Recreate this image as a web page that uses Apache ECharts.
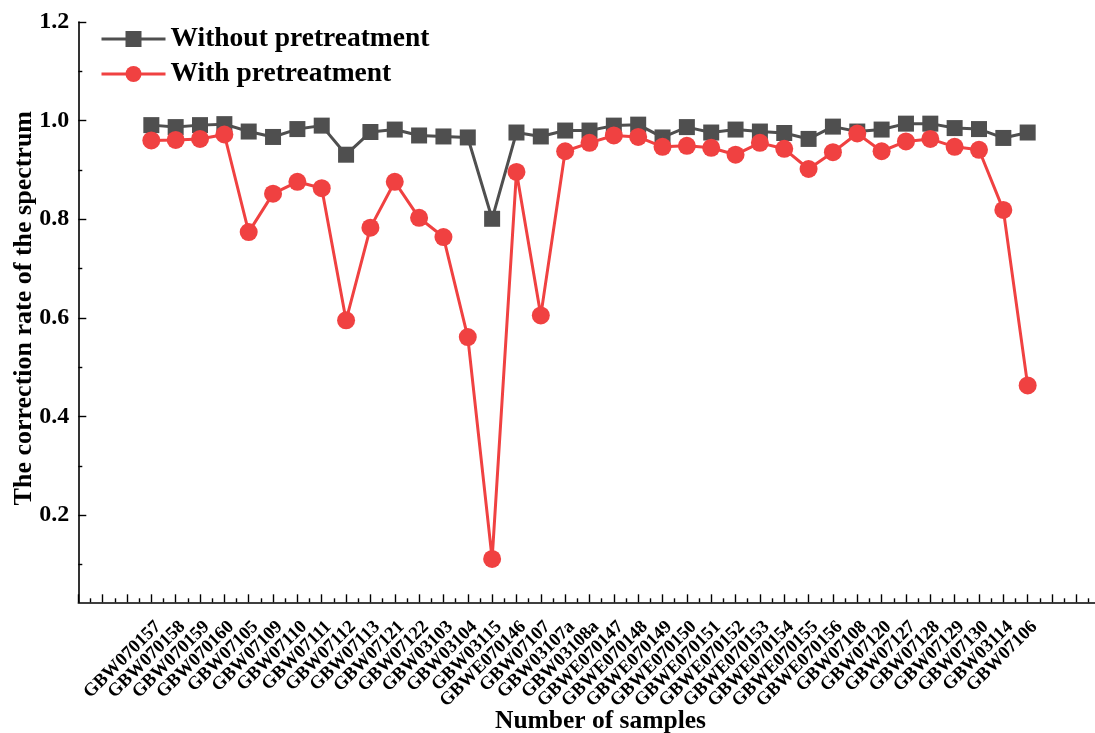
<!DOCTYPE html>
<html>
<head>
<meta charset="utf-8">
<title>Correction rate of the spectrum</title>
<script src="https://cdn.jsdelivr.net/npm/echarts@6/dist/echarts.min.js"></script>
<style>
  html, body { margin: 0; padding: 0; background: #ffffff; }
  #chart { width: 1095px; height: 733px; }
</style>
</head>
<body>
<div id="chart"></div>
<script>
// Sample identifiers along the x axis (placed at positions 3, 4, ... on a 0–42 scale)
const samples = [
  'GBW070157', 'GBW070158', 'GBW070159', 'GBW070160', 'GBW07105', 'GBW07109',
  'GBW07110', 'GBW07111', 'GBW07112', 'GBW07113', 'GBW07121', 'GBW07122',
  'GBW03103', 'GBW03104', 'GBW03115', 'GBWE070146', 'GBW07107', 'GBW03107a',
  'GBW03108a', 'GBWE070147', 'GBWE070148', 'GBWE070149', 'GBWE070150',
  'GBWE070151', 'GBWE070152', 'GBWE070153', 'GBWE070154', 'GBWE070155',
  'GBWE070156', 'GBW07108', 'GBW07120', 'GBW07127', 'GBW07128', 'GBW07129',
  'GBW07130', 'GBW03114', 'GBW07106'
];

const withoutPretreatment = [
  0.991, 0.987, 0.991, 0.993, 0.978, 0.967, 0.983, 0.990, 0.931, 0.977,
  0.982, 0.970, 0.968, 0.966, 0.801, 0.976, 0.968, 0.980, 0.980, 0.990,
  0.992, 0.966, 0.987, 0.976, 0.982, 0.978, 0.975, 0.963, 0.988, 0.978,
  0.982, 0.994, 0.994, 0.985, 0.983, 0.965, 0.976
];

const withPretreatment = [
  0.960, 0.961, 0.963, 0.972, 0.774, 0.852, 0.876, 0.863, 0.595, 0.783,
  0.876, 0.803, 0.764, 0.561, 0.111, 0.896, 0.605, 0.938, 0.955, 0.970,
  0.967, 0.947, 0.949, 0.945, 0.931, 0.955, 0.943, 0.902, 0.936, 0.974,
  0.938, 0.958, 0.963, 0.947, 0.941, 0.819, 0.463
];

const yMajorTicks = [0.2, 0.4, 0.6, 0.8, 1.0, 1.2];
const yMinorTicks = [0.1, 0.3, 0.5, 0.7, 0.9, 1.1];

const firstPos = 3;   // x position of the first sample
const xMax = 42;
const yMin = 0.023;
const yMax = 1.2;

const FONT = '"Liberation Serif", "Times New Roman", serif';

const toPoints = vals => vals.map((v, i) => [i + firstPos, v]);

const chart = echarts.init(document.getElementById('chart'), null, { renderer: 'canvas' });

const option = {
  backgroundColor: '#ffffff',
  animation: false,
  grid: {
    left: 78.3,
    top: 22.1,
    right: -5.7,
    bottom: 130.7,
    containLabel: false,
    outerBoundsMode: 'none'
  },
  legend: {
    orient: 'vertical',
    left: 100,
    top: 25,
    padding: 0,
    itemGap: 7,
    itemWidth: 64,
    itemHeight: 20,
    lineStyle: { width: 3 },
    textStyle: {
      fontFamily: FONT,
      fontWeight: 'bold',
      fontSize: 27.5,
      lineHeight: 27,
      color: '#000'
    },
    data: ['Without pretreatment', 'With pretreatment']
  },
  xAxis: {
    type: 'value',
    min: 0,
    max: xMax,
    interval: 1,
    name: 'Number of samples',
    nameLocation: 'middle',
    nameGap: 106,
    nameMoveOverlap: false,
    nameTextStyle: {
      fontFamily: FONT,
      fontWeight: 'bold',
      fontSize: 25.5,
      color: '#000',
      padding: [0, 0, 0, 22]
    },
    axisLine: { show: true, onZero: false, lineStyle: { color: '#000', width: 1.6 } },
    axisTick: { show: true, inside: true, length: 8, lineStyle: { color: '#000', width: 1.4 } },
    minorTick: { show: true, splitNumber: 2, length: 4, lineStyle: { color: '#000', width: 1.4 } },
    splitLine: { show: false },
    minorSplitLine: { show: false },
    axisLabel: {
      rotate: 45,
      margin: 15,
      verticalAlign: 'top',
      fontFamily: FONT,
      fontWeight: 'bold',
      fontSize: 18.5,
      color: '#000',
      showMinLabel: true,
      showMaxLabel: true,
      formatter: v => {
        const idx = Math.round(v) - firstPos;
        return (idx >= 0 && idx < samples.length) ? samples[idx] : '';
      }
    }
  },
  yAxis: [
    {
      type: 'value',
      min: yMin,
      max: yMax,
      name: 'The correction rate of the spectrum',
      nameLocation: 'middle',
      nameGap: 41,
      nameMoveOverlap: false,
      nameTextStyle: {
        fontFamily: FONT,
        fontWeight: 'bold',
        fontSize: 26,
        color: '#000',
        padding: [0, 0, 0, 8]
      },
      axisLine: { show: true, lineStyle: { color: '#000', width: 1.6 } },
      axisTick: {
        show: true, inside: true, length: 8,
        customValues: yMajorTicks,
        lineStyle: { color: '#000', width: 1.4 }
      },
      axisLabel: {
        margin: 9,
        customValues: yMajorTicks,
        fontFamily: FONT,
        fontWeight: 'bold',
        fontSize: 24,
        color: '#000',
        formatter: v => v.toFixed(1)
      },
      splitLine: { show: false }
    },
    {
      // minor ticks between the labelled values
      type: 'value',
      min: yMin,
      max: yMax,
      position: 'left',
      offset: 0,
      axisLine: { show: false },
      axisTick: {
        show: true, inside: true, length: 4,
        customValues: yMinorTicks,
        lineStyle: { color: '#000', width: 1.4 }
      },
      axisLabel: { show: false },
      splitLine: { show: false }
    }
  ],
  series: [
    {
      name: 'Without pretreatment',
      type: 'line',
      yAxisIndex: 0,
      data: toPoints(withoutPretreatment),
      symbol: 'rect',
      symbolSize: 16,
      itemStyle: { color: '#4f4f4f' },
      lineStyle: { color: '#4f4f4f', width: 3 },
      z: 2
    },
    {
      name: 'With pretreatment',
      type: 'line',
      yAxisIndex: 0,
      data: toPoints(withPretreatment),
      symbol: 'circle',
      symbolSize: 18,
      itemStyle: { color: '#f04141' },
      lineStyle: { color: '#f04141', width: 3 },
      z: 3
    }
  ]
};

chart.setOption(option);
</script>
</body>
</html>
